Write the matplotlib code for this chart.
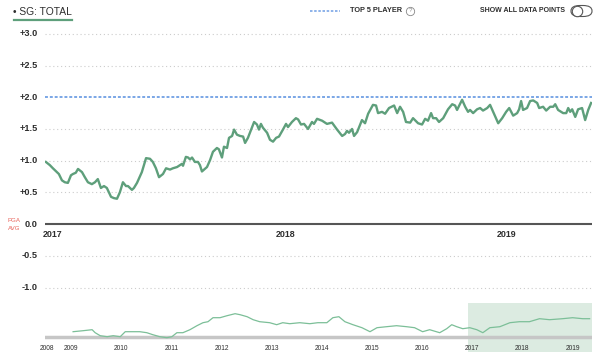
import numpy as np
import matplotlib
matplotlib.use('Agg')
import matplotlib.pyplot as plt
from matplotlib.patches import FancyBboxPatch

# SG: Total, rolling average (main window, 2017 - 2019)
sg_years = [2016.909, 2016.927, 2016.941, 2016.959, 2016.968, 2016.982, 2016.995, 2017.009,
            2017.023, 2017.032, 2017.045, 2017.055, 2017.073, 2017.086, 2017.100, 2017.118,
            2017.132, 2017.145, 2017.159, 2017.173, 2017.186, 2017.205, 2017.218, 2017.232,
            2017.245, 2017.259, 2017.273, 2017.282, 2017.300, 2017.309, 2017.323, 2017.345,
            2017.364, 2017.382, 2017.395, 2017.409, 2017.423, 2017.441, 2017.455, 2017.473,
            2017.486, 2017.505, 2017.527, 2017.532, 2017.545, 2017.555, 2017.564, 2017.573,
            2017.586, 2017.600, 2017.609, 2017.618, 2017.641, 2017.655, 2017.668, 2017.686,
            2017.695, 2017.709, 2017.718, 2017.732, 2017.741, 2017.755, 2017.764, 2017.777,
            2017.791, 2017.805, 2017.814, 2017.827, 2017.845, 2017.855, 2017.868, 2017.877,
            2017.886, 2017.895, 2017.914, 2017.927, 2017.941, 2017.955, 2017.968, 2017.986,
            2018.000, 2018.009, 2018.027, 2018.045, 2018.055, 2018.068, 2018.082, 2018.100,
            2018.118, 2018.127, 2018.141, 2018.164, 2018.186, 2018.209, 2018.232, 2018.255,
            2018.268, 2018.277, 2018.286, 2018.300, 2018.309, 2018.323, 2018.345, 2018.359,
            2018.373, 2018.395, 2018.409, 2018.418, 2018.436, 2018.450, 2018.468, 2018.491,
            2018.505, 2018.518, 2018.532, 2018.545, 2018.564, 2018.577, 2018.600, 2018.618,
            2018.632, 2018.645, 2018.659, 2018.668, 2018.682, 2018.695, 2018.714, 2018.736,
            2018.755, 2018.768, 2018.777, 2018.800, 2018.814, 2018.827, 2018.836, 2018.850,
            2018.868, 2018.882, 2018.895, 2018.914, 2018.927, 2018.941, 2018.955, 2018.964,
            2018.982, 2019.000, 2019.014, 2019.032, 2019.050, 2019.059, 2019.068, 2019.077,
            2019.095, 2019.109, 2019.123, 2019.141, 2019.150, 2019.168, 2019.182, 2019.200,
            2019.214, 2019.223, 2019.236, 2019.259, 2019.273, 2019.282, 2019.291, 2019.300,
            2019.314, 2019.327, 2019.345, 2019.359, 2019.373, 2019.386]
sg_total = [0.98, 0.93, 0.88, 0.82, 0.79, 0.69, 0.66, 0.65,
            0.77, 0.79, 0.81, 0.87, 0.82, 0.74, 0.66, 0.63,
            0.66, 0.71, 0.57, 0.60, 0.57, 0.43, 0.41, 0.40,
            0.50, 0.66, 0.60, 0.60, 0.54, 0.57, 0.65, 0.82,
            1.04, 1.03, 0.98, 0.88, 0.74, 0.79, 0.88, 0.86,
            0.88, 0.90, 0.95, 0.92, 1.06, 1.05, 1.02, 1.05,
            0.98, 0.98, 0.93, 0.83, 0.90, 1.01, 1.14, 1.20,
            1.18, 1.05, 1.22, 1.20, 1.36, 1.39, 1.49, 1.41,
            1.39, 1.38, 1.28, 1.36, 1.52, 1.61, 1.57, 1.49,
            1.58, 1.52, 1.44, 1.33, 1.30, 1.36, 1.38, 1.49,
            1.58, 1.53, 1.61, 1.67, 1.65, 1.57, 1.58, 1.50,
            1.61, 1.58, 1.66, 1.63, 1.58, 1.60, 1.49, 1.39,
            1.42, 1.47, 1.44, 1.50, 1.39, 1.45, 1.64, 1.59,
            1.74, 1.88, 1.87, 1.75, 1.77, 1.74, 1.83, 1.87,
            1.75, 1.85, 1.77, 1.61, 1.60, 1.67, 1.59, 1.57,
            1.66, 1.63, 1.75, 1.67, 1.67, 1.61, 1.67, 1.81,
            1.89, 1.87, 1.80, 1.96, 1.85, 1.77, 1.80, 1.75,
            1.81, 1.83, 1.79, 1.83, 1.88, 1.77, 1.66, 1.59,
            1.67, 1.77, 1.83, 1.71, 1.75, 1.81, 1.94, 1.80,
            1.83, 1.94, 1.95, 1.91, 1.83, 1.85, 1.79, 1.85,
            1.85, 1.89, 1.80, 1.75, 1.75, 1.83, 1.77, 1.81,
            1.69, 1.81, 1.83, 1.64, 1.80, 1.91]

# full career overview (navigator, 2009 - 2019)
nav_years = [2009.04, 2009.24, 2009.42, 2009.48, 2009.58, 2009.72, 2009.84, 2009.98,
             2010.08, 2010.24, 2010.37, 2010.51, 2010.63, 2010.77, 2010.91, 2011.01,
             2011.11, 2011.23, 2011.37, 2011.51, 2011.63, 2011.73, 2011.83, 2011.97,
             2012.11, 2012.27, 2012.37, 2012.51, 2012.63, 2012.76, 2012.96, 2013.10,
             2013.22, 2013.36, 2013.56, 2013.76, 2013.92, 2014.10, 2014.22, 2014.34,
             2014.46, 2014.62, 2014.80, 2014.96, 2015.10, 2015.29, 2015.49, 2015.69,
             2015.85, 2016.01, 2016.15, 2016.35, 2016.49, 2016.59, 2016.69, 2016.81,
             2016.95, 2017.09, 2017.21, 2017.35, 2017.55, 2017.75, 2017.94, 2018.14,
             2018.34, 2018.54, 2018.80, 2019.00, 2019.20, 2019.34]
nav_total = [0.5, 0.6, 0.7, 0.4, 0.1, 0.0, 0.1, 0.0,
             0.5, 0.5, 0.5, 0.4, 0.2, 0.0, -0.1, 0.0,
             0.4, 0.4, 0.7, 1.1, 1.4, 1.5, 1.9, 1.9,
             2.1, 2.3, 2.2, 2.0, 1.7, 1.5, 1.4, 1.2,
             1.4, 1.3, 1.4, 1.3, 1.4, 1.4, 1.9, 2.0,
             1.5, 1.2, 0.9, 0.5, 0.9, 1.0, 1.1, 1.0,
             0.9, 0.5, 0.7, 0.4, 0.8, 1.2, 1.0, 0.8,
             0.9, 0.7, 0.4, 0.9, 1.0, 1.4, 1.5, 1.5,
             1.8, 1.7, 1.8, 1.9, 1.8, 1.8]

top5_level = 2.0
y_ticks = [3.0, 2.5, 2.0, 1.5, 1.0, 0.5, 0.0, -0.5, -1.0]
main_year_labels = [2017, 2018, 2019]
nav_year_labels = [2008, 2009, 2010, 2011, 2012, 2013, 2014, 2015, 2016, 2017, 2018, 2019]

green = '#5e9f7b'
text_col = '#2e2e2e'

plt.rcParams['font.family'] = ['Liberation Sans', 'DejaVu Sans']

fig = plt.figure(figsize=(6.0, 3.52), dpi=100)

# ---- main chart
ax = fig.add_axes([0.075, 1 - 292 / 352, 0.912, 262 / 352])
x0, x1 = 2016.905, 2019.391
ax.set_xlim(x0, x1)
ax.set_ylim(-1.07, 3.06)
for s in ax.spines.values():
    s.set_visible(False)
ax.set_xticks([])
ax.set_yticks([])

for v in y_ticks:
    if v == 0.0:
        ax.axhline(v, color='#555555', lw=1.5, zorder=2)
    elif v == top5_level:
        ax.axhline(v, color='#7aa6e6', lw=1.4, ls=(0, (1.5, 1)), zorder=2)
    else:
        ax.axhline(v, color='#cccccc', lw=0.8, ls=(0, (1, 2.5)), zorder=1)
    lab = '0.0' if v == 0 else ('%+.1f' % v)
    ax.text(-0.013, v, lab, transform=ax.get_yaxis_transform(), ha='right', va='center',
            fontsize=6.6, fontweight='bold', color=text_col)

ax.plot(sg_years, sg_total, color=green, lw=1.7, solid_joinstyle='round', zorder=3)

ax.text(x0 - 0.008, -0.17, str(main_year_labels[0]), ha='left', va='center',
        fontsize=6.4, fontweight='bold', color=text_col)
for yr in main_year_labels[1:]:
    ax.text(yr, -0.17, str(yr), ha='center', va='center', fontsize=6.4,
            fontweight='bold', color=text_col)

fig.text(8 / 600, 1 - 221 / 352, 'PGA', fontsize=4.4, color='#e8635a', ha='left', va='center')
fig.text(8 / 600, 1 - 229 / 352, 'AVG', fontsize=4.4, color='#e8635a', ha='left', va='center')

# ---- navigator
nav = fig.add_axes([0.075, 1 - 340 / 352, 0.912, 40 / 352])
n0, n1 = 2008.48, 2019.391
nav.set_xlim(n0, n1)
nav.set_ylim(-0.33, 3.67)
for s in nav.spines.values():
    s.set_visible(False)
nav.set_xticks([])
nav.set_yticks([])
nav.axhline(0, color='#c6c6c6', lw=2.5, zorder=1)
nav.plot(nav_years, nav_total, color='#7cbf98', lw=0.9, zorder=2)
nav.axvspan(x0, x1, ymin=-0.3, ymax=0.925, color='#d6e8dc', alpha=0.85, lw=0,
            clip_on=False, zorder=0)
for yr in nav_year_labels:
    first = yr == nav_year_labels[0]
    nav.text(n0 - 0.1 if first else yr, -0.2, str(yr), transform=nav.get_xaxis_transform(),
             ha='left' if first else 'center', va='center', fontsize=4.8, color=text_col)

# ---- header
fig.text(13 / 600, 1 - 12 / 352, '\u2022 SG: TOTAL', fontsize=7.4, color=text_col,
         ha='left', va='center')
fig.add_artist(plt.Line2D([14 / 600, 72 / 600], [1 - 19.5 / 352, 1 - 19.5 / 352],
                          color=green, lw=1.6))

fig.add_artist(plt.Line2D([310 / 600, 340 / 600], [1 - 11 / 352, 1 - 11 / 352],
                          color='#7aa6e6', lw=1.2, ls=(0, (1.5, 1))))
fig.text(350 / 600, 1 - 11 / 352, 'TOP 5 PLAYER', fontsize=5.3, fontweight='bold',
         color=text_col, ha='left', va='center')
fig.add_artist(plt.Line2D([410 / 600], [1 - 11 / 352], marker='o', ms=6,
                          mfc='white', mec='#888888', mew=0.6))
fig.text(410 / 600, 1 - 11 / 352, '?', fontsize=4.3, color='#888888', ha='center', va='center')

fig.text(565 / 600, 1 - 11 / 352, 'SHOW ALL DATA POINTS', fontsize=5.0, fontweight='bold',
         color=text_col, ha='right', va='center')
fig.add_artist(FancyBboxPatch((571 / 600, 1 - 16.5 / 352), 21 / 600, 11 / 352,
                              boxstyle='round,pad=0,rounding_size=0.015',
                              transform=fig.transFigure, fc='white', ec='#555555', lw=0.8))
fig.add_artist(plt.Line2D([576.5 / 600], [1 - 11 / 352], marker='o', ms=7.5,
                          mfc='white', mec='#555555', mew=0.8))

fig.savefig('out.png', dpi=100)
